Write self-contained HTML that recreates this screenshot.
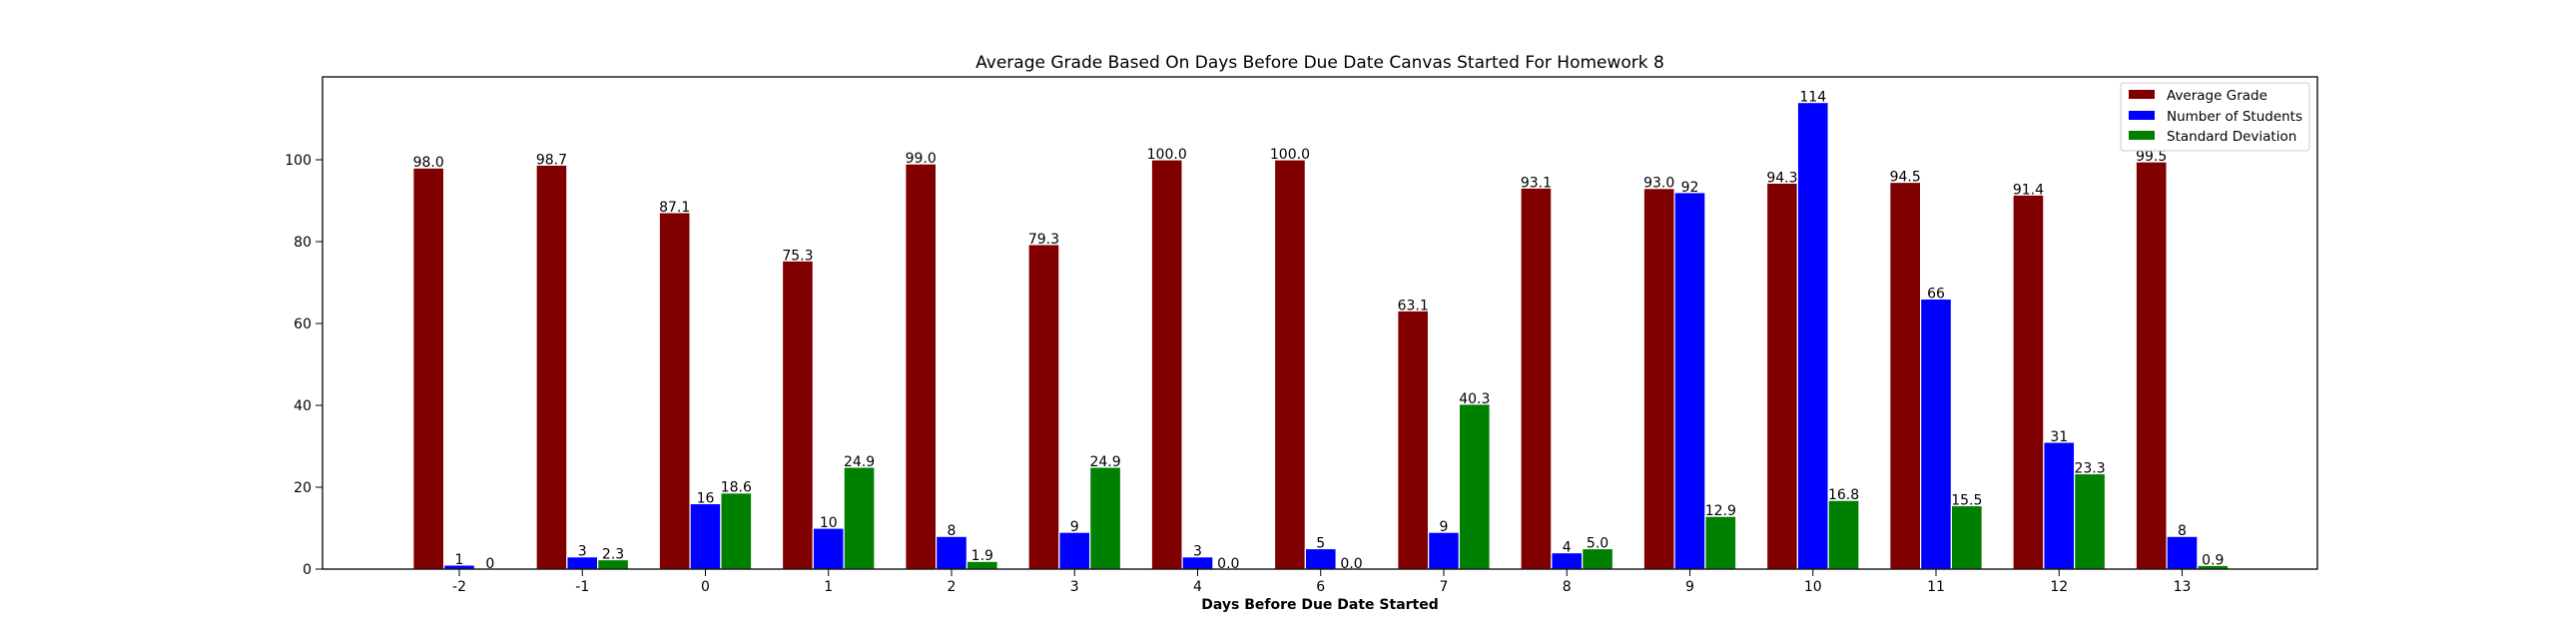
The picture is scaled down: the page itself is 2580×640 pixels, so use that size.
<!DOCTYPE html>
<html><head><meta charset="utf-8"><style>
html,body{margin:0;padding:0;background:#fff;}
svg{display:block;font-family:"DejaVu Sans","Liberation Sans",sans-serif;}
</style></head><body>
<svg id="chart" width="2580" height="640" viewBox="0 0 2580 640" xmlns="http://www.w3.org/2000/svg">
<rect width="2580" height="640" fill="#fff"/>
<text x="1322" y="68" font-size="17" text-anchor="middle">Average Grade Based On Days Before Due Date Canvas Started For Homework 8</text>
<g id="bars"></g>
<g id="labels"></g>
<g id="yaxis"></g>
<g id="xaxis"></g>
<rect x="323" y="77" width="1998" height="493" fill="none" stroke="#000" stroke-width="1.3"/>
<text x="1322" y="610" font-size="14" font-weight="bold" text-anchor="middle">Days Before Due Date Started</text>
<g>
<rect x="2124" y="83" width="189" height="68" rx="3" fill="#fff" fill-opacity="0.8" stroke="#ccc"/>
<rect x="2132" y="90" width="26" height="9" fill="#800000"/>
<text x="2170" y="100" font-size="13.5">Average Grade</text>
<rect x="2132" y="111" width="26" height="9" fill="#0000ff"/>
<text x="2170" y="121" font-size="13.5">Number of Students</text>
<rect x="2132" y="131" width="26" height="9" fill="#008000"/>
<text x="2170" y="141" font-size="13.5">Standard Deviation</text>
</g>
</svg>
<script>
const categories = ["-2","-1","0","1","2","3","4","6","7","8","9","10","11","12","13"];
const avgGrade = [98.0,98.7,87.1,75.3,99.0,79.3,100.0,100.0,63.1,93.1,93.0,94.3,94.5,91.4,99.5];
const numStudents = [1,3,16,10,8,9,3,5,9,4,92,114,66,31,8];
const stdDev = [0,2.3,18.6,24.9,1.9,24.9,0.0,0.0,40.3,5.0,12.9,16.8,15.5,23.3,0.9];
const avgLabels = ["98.0","98.7","87.1","75.3","99.0","79.3","100.0","100.0","63.1","93.1","93.0","94.3","94.5","91.4","99.5"];
const studentLabels = ["1","3","16","10","8","9","3","5","9","4","92","114","66","31","8"];
const sdLabels = ["0","2.3","18.6","24.9","1.9","24.9","0.0","0.0","40.3","5.0","12.9","16.8","15.5","23.3","0.9"];
const yTicks = [0,20,40,60,80,100];

const NS="http://www.w3.org/2000/svg";
const X0=460, STEP=123.25, Y0=570, YS=4.1;
function xScale(i){return X0+i*STEP;}
function yScale(v){return Y0-v*YS;}
const BW=STEP*0.25;
const series=[{d:avgGrade,l:avgLabels,c:"#800000",off:-1,n:"average-grade"},
{d:numStudents,l:studentLabels,c:"#0000ff",off:0,n:"number-of-students"},
{d:stdDev,l:sdLabels,c:"#008000",off:1,n:"standard-deviation"}];
const bars=document.getElementById('bars'), labels=document.getElementById('labels');
series.forEach(s=>{
  s.d.forEach((v,i)=>{
    const cx=xScale(i)+s.off*BW;
    const r=document.createElementNS(NS,'rect');
    r.setAttribute('x',cx-BW/2);r.setAttribute('y',yScale(v));
    r.setAttribute('width',BW);r.setAttribute('height',Math.max(0,Y0-yScale(v)));
    r.setAttribute('fill',s.c);r.setAttribute('stroke','#fff');r.setAttribute('stroke-width','1.2');
    
    
    bars.appendChild(r);
    const t=document.createElementNS(NS,'text');
    t.setAttribute('x',cx);t.setAttribute('y',yScale(v)-1);
    t.setAttribute('font-size','14');t.setAttribute('text-anchor','middle');
    t.textContent=s.l[i];
    
    
    labels.appendChild(t);
  });
});
const ya=document.getElementById('yaxis');
yTicks.forEach(v=>{
  const y=yScale(v);
  const l=document.createElementNS(NS,'line');
  l.setAttribute('x1',316);l.setAttribute('x2',323);l.setAttribute('y1',y);l.setAttribute('y2',y);l.setAttribute('stroke','#000');
  
  
  ya.appendChild(l);
  const t=document.createElementNS(NS,'text');
  t.setAttribute('x',312);t.setAttribute('y',y+5);t.setAttribute('font-size','14');t.setAttribute('text-anchor','end');
  t.textContent=v;
  
  
  ya.appendChild(t);
});
const xa=document.getElementById('xaxis');
categories.forEach((c,i)=>{
  const x=xScale(i);
  const l=document.createElementNS(NS,'line');
  l.setAttribute('x1',x);l.setAttribute('x2',x);l.setAttribute('y1',570);l.setAttribute('y2',577);l.setAttribute('stroke','#000');
  
  
  xa.appendChild(l);
  const t=document.createElementNS(NS,'text');
  t.setAttribute('x',x);t.setAttribute('y',592);t.setAttribute('font-size','14');t.setAttribute('text-anchor','middle');
  t.textContent=c;
  
  
  xa.appendChild(t);
});
</script>
</body></html>
